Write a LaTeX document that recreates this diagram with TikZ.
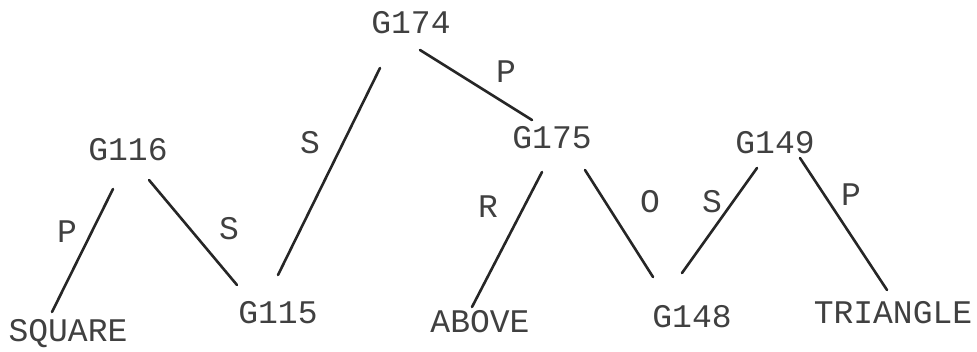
\documentclass[tikz,border=0pt]{standalone}
\usepackage{fontspec}
\setmonofont{Liberation Mono}
\usetikzlibrary{positioning}

\begin{document}
\begin{tikzpicture}[
    x=1pt, y=-1pt,
    term/.style={inner sep=0pt, text height=20pt, text depth=0pt, font=\ttfamily\fontsize{33}{33}\selectfont, text=black!75},
    rel/.style={term},
    edge/.style={draw=black!85, line width=2.6pt, line cap=round}
]
\useasboundingbox (0,0) rectangle (977,351);

% Nodes
\node (g174) [term] at (411,23) {G174};
\node (g116) [term] at (128,150) {G116};
\node (g115) [term] at (278,313) {G115};
\node (square) [term] at (68,331) {SQUARE};
\node (g175) [term] at (552,138) {G175};
\node (above) [term] at (480,322) {ABOVE};
\node (g148) [term] at (692,317) {G148};
\node (g149) [term] at (775,143) {G149};
\node (triangle) [term] at (893,313) {TRIANGLE};

% Labels
\node (p1) [rel] at (67,232) {P};
\node (s1) [rel] at (229,229) {S};
\node (s2) [rel] at (310,143) {S};
\node (p2) [rel] at (506,72) {P};
\node (r1) [rel] at (488,207) {R};
\node (o1) [rel] at (650,202) {O};
\node (s3) [rel] at (712,202) {S};
\node (p3) [rel] at (851,195) {P};

% Edges
\draw [edge] ([shift={(-15,39)}]g116.center) -- ([shift={(-16,-19)}]square.center);
\draw [edge] ([shift={(21,30)}]g116.center) -- ([shift={(-41,-28)}]g115.center);
\draw [edge] ([shift={(-31,45)}]g174.center) -- ([shift={(0,-38)}]g115.center);
\draw [edge] ([shift={(9,27)}]g174.center) -- ([shift={(-20,-18)}]g175.center);
\draw [edge] ([shift={(-10,34)}]g175.center) -- ([shift={(-8,-15)}]above.center);
\draw [edge] ([shift={(33,32)}]g175.center) -- ([shift={(-39,-40)}]g148.center);
\draw [edge] ([shift={(-18,25)}]g149.center) -- ([shift={(-10,-44)}]g148.center);
\draw [edge] ([shift={(25,15)}]g149.center) -- ([shift={(-6,-23)}]triangle.center);

\end{tikzpicture}
\end{document}
